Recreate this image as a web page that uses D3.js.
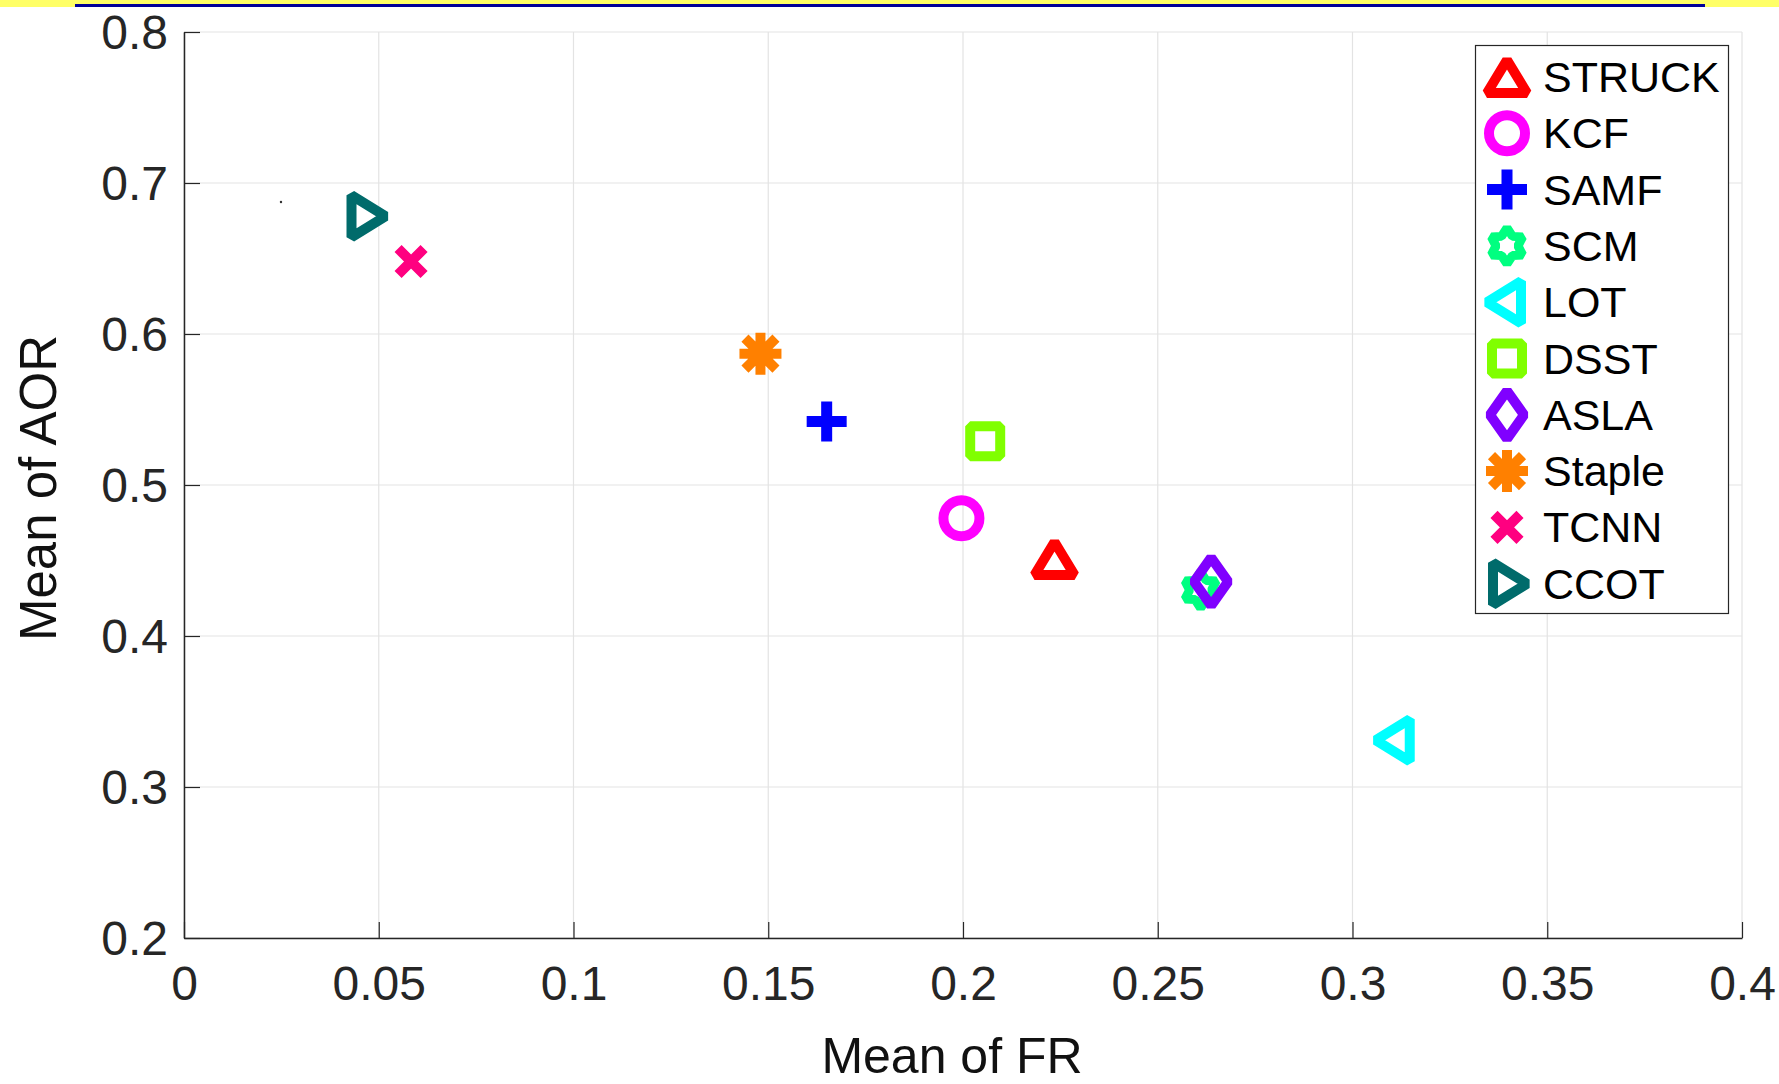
<!DOCTYPE html>
<html>
<head>
<meta charset="utf-8">
<script src="https://cdn.jsdelivr.net/npm/d3@7"></script>
<style>
  body { margin: 0; background: #fff; }
  text { font-family: "Liberation Sans", Arial, sans-serif; }
</style>
</head>
<body>
<svg id="chart" width="1779" height="1084"></svg>
<script>
// tracker results: mean failure rate vs mean average overlap
const methods = ["STRUCK", "KCF", "SAMF", "SCM", "LOT", "DSST", "ASLA", "Staple", "TCNN", "CCOT"];
const meanFR  = [0.2235, 0.1996, 0.165, 0.261, 0.3111, 0.2057, 0.2637, 0.148, 0.0583, 0.0466];
const meanAOR = [0.451, 0.478, 0.542, 0.4305, 0.331, 0.529, 0.436, 0.587, 0.648, 0.678];
const colors  = ["#ff0000", "#ff00ff", "#0000ff", "#00ff80", "#00ffff", "#80ff00", "#8000ff", "#ff8000", "#ff0080", "#006b6b"];
const shapes  = ["triUp", "circle", "plus", "hexagram", "triLeft", "square", "diamond", "asterisk", "cross", "triRight"];

// stray dot in the original figure
const strayFR = [0.0249];
const strayAOR = [0.6874];

const xTicks = [0, 0.05, 0.1, 0.15, 0.2, 0.25, 0.3, 0.35, 0.4];
const xTickLabels = ["0", "0.05", "0.1", "0.15", "0.2", "0.25", "0.3", "0.35", "0.4"];
const yTicks = [0.2, 0.3, 0.4, 0.5, 0.6, 0.7, 0.8];
const yTickLabels = ["0.2", "0.3", "0.4", "0.5", "0.6", "0.7", "0.8"];

const svg = d3.select("#chart");
const W = 1779;

const margin = { top: 32, right: 37, bottom: 146, left: 184 };
const width = W - margin.left - margin.right;
const height = 1084 - margin.top - margin.bottom;

// top banner strip
svg.append("rect").attr("x", 0).attr("y", 0).attr("width", W).attr("height", 7).attr("fill", "#ffff66");
svg.append("rect").attr("x", 75).attr("y", 4).attr("width", 1630).attr("height", 3).attr("fill", "#000099");

const xScale = d3.scaleLinear().domain([0, 0.4]).range([margin.left, margin.left + width]);
const yScale = d3.scaleLinear().domain([0.2, 0.8]).range([margin.top + height, margin.top]);

// grid
const grid = svg.append("g").attr("stroke", "#e3e3e3").attr("stroke-width", 1.2);
grid.selectAll(".gx").data(xTicks).enter().append("line")
  .attr("x1", (d) => xScale(d)).attr("x2", (d) => xScale(d))
  .attr("y1", margin.top).attr("y2", margin.top + height);
grid.selectAll(".gy").data(yTicks).enter().append("line")
  .attr("y1", (d) => yScale(d)).attr("y2", (d) => yScale(d))
  .attr("x1", margin.left).attr("x2", margin.left + width);

// axes
const xAxis = svg.append("g")
  .attr("transform", `translate(0, ${margin.top + height})`)
  .call(d3.axisBottom(xScale).tickValues(xTicks).tickFormat((d, i) => xTickLabels[i])
    .tickSizeInner(-16).tickSizeOuter(0).tickPadding(28));
const yAxis = svg.append("g")
  .attr("transform", `translate(${margin.left}, 0)`)
  .call(d3.axisLeft(yScale).tickValues(yTicks).tickFormat((d, i) => yTickLabels[i])
    .tickSizeInner(-16).tickSizeOuter(0).tickPadding(16));

[xAxis, yAxis].forEach((ax) => {
  ax.select(".domain").attr("stroke", "#262626").attr("stroke-width", 1.5);
  ax.selectAll(".tick line").attr("stroke", "#262626").attr("stroke-width", 1.2);
  ax.selectAll(".tick text").attr("fill", "#262626").attr("font-size", 48)
    .style("font-family", "Liberation Sans, Arial, sans-serif");
});
yAxis.selectAll(".tick text").attr("dy", "0.35em");

// axis titles
svg.append("text")
  .attr("x", margin.left + width / 2 - 11).attr("y", 1073)
  .attr("text-anchor", "middle").attr("font-size", 50).attr("fill", "#111")
  .text("Mean of FR");
svg.append("text")
  .attr("transform", `translate(56, ${margin.top + height / 2 + 3}) rotate(-90)`)
  .attr("text-anchor", "middle").attr("font-size", 51).attr("fill", "#111")
  .text("Mean of AOR");

// marker shapes, centred on 0,0
function markerPath(shape) {
  const p = d3.path();
  switch (shape) {
    case "triUp":
      p.moveTo(0, -17); p.lineTo(20, 16); p.lineTo(-20, 16); p.closePath(); break;
    case "triLeft":
      p.moveTo(-20, 0); p.lineTo(14, -21); p.lineTo(14, 21); p.closePath(); break;
    case "triRight":
      p.moveTo(20, 0); p.lineTo(-14, -21); p.lineTo(-14, 21); p.closePath(); break;
    case "circle":
      p.arc(0, 0, 18, 0, 2 * Math.PI); p.closePath(); break;
    case "square":
      p.rect(-15, -15, 30, 30); break;
    case "diamond":
      p.moveTo(0, -24); p.lineTo(17, 0); p.lineTo(0, 24); p.lineTo(-17, 0); p.closePath(); break;
    case "plus":
      p.moveTo(-20, 0); p.lineTo(20, 0); p.moveTo(0, -20); p.lineTo(0, 20); break;
    case "cross":
      p.moveTo(-13, -13); p.lineTo(13, 13); p.moveTo(13, -13); p.lineTo(-13, 13); break;
    case "asterisk":
      p.moveTo(-21, 0); p.lineTo(21, 0); p.moveTo(0, -21); p.lineTo(0, 21);
      p.moveTo(-15.5, -15.5); p.lineTo(15.5, 15.5); p.moveTo(15.5, -15.5); p.lineTo(-15.5, 15.5); break;
    case "hexagram":
      for (let k = 0; k < 12; k++) {
        const r = k % 2 === 0 ? 18 : 11;
        const a = -Math.PI / 2 + k * Math.PI / 6;
        if (k === 0) p.moveTo(r * Math.cos(a), r * Math.sin(a));
        else p.lineTo(r * Math.cos(a), r * Math.sin(a));
      }
      p.closePath(); break;
  }
  return p.toString();
}
const strokeW = { triUp: 10, triLeft: 10, triRight: 10, circle: 10, square: 10, diamond: 10,
  plus: 11, cross: 10, asterisk: 10, hexagram: 9 };

const points = methods.map((m, i) => ({ name: m, fr: meanFR[i], aor: meanAOR[i], color: colors[i], shape: shapes[i] }));

// stray dot
svg.selectAll(".stray").data(strayFR).enter().append("circle")
  .attr("cx", (d) => xScale(d)).attr("cy", (d, i) => yScale(strayAOR[i]))
  .attr("r", 1.2).attr("fill", "#333");

svg.selectAll(".marker").data(points).enter().append("path")
  .attr("class", "marker")
  .attr("transform", (d) => `translate(${xScale(d.fr)}, ${yScale(d.aor)})`)
  .attr("d", (d) => markerPath(d.shape))
  .attr("fill", "none")
  .attr("stroke", (d) => d.color)
  .attr("stroke-width", (d) => strokeW[d.shape])
  .attr("stroke-linejoin", "bevel");

// legend
const legend = svg.append("g");
legend.append("rect")
  .attr("x", 1475.5).attr("y", 45.5).attr("width", 253).attr("height", 568)
  .attr("fill", "#fff").attr("stroke", "#262626").attr("stroke-width", 1.2);
const row = legend.selectAll(".row").data(points).enter().append("g")
  .attr("transform", (d, i) => `translate(1507, ${77 + i * 56.3})`);
row.append("path")
  .attr("d", (d) => markerPath(d.shape))
  .attr("fill", "none")
  .attr("stroke", (d) => d.color)
  .attr("stroke-width", (d) => strokeW[d.shape])
  .attr("stroke-linejoin", "bevel");
row.append("text")
  .attr("x", 36).attr("y", 15)
  .attr("font-size", 43).attr("fill", "#000")
  .text((d) => d.name);
</script>
</body>
</html>
